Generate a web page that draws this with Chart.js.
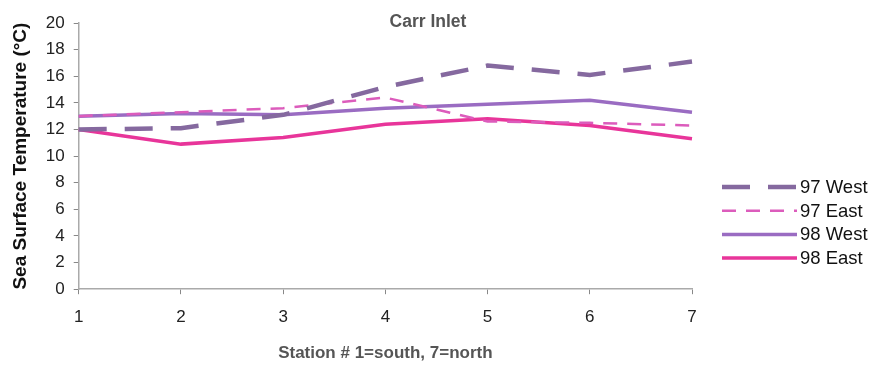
<!DOCTYPE html>
<html>
<head>
<meta charset="utf-8">
<script src="https://cdn.jsdelivr.net/npm/chart.js@4"></script>
<style>
  html, body { margin: 0; padding: 0; background: #fff; }
  #wrap { width: 880px; height: 367px; }
</style>
</head>
<body>
<div id="wrap"><canvas id="chart"></canvas></div>
<script>
// station numbers along the inlet
var stations = ["1", "2", "3", "4", "5", "6", "7"];
var yTicks = [0, 2, 4, 6, 8, 10, 12, 14, 16, 18, 20];
var chartTitle = "Carr Inlet";

// sea surface temperature (deg C)
var west97 = [12.0, 12.1, 13.1, 15.2, 16.8, 16.1, 17.1];
var east97 = [13.0, 13.3, 13.6, 14.4, 12.6, 12.5, 12.3];
var west98 = [13.0, 13.2, 13.1, 13.6, 13.9, 14.2, 13.3];
var east98 = [12.0, 10.9, 11.4, 12.4, 12.8, 12.3, 11.3];

Chart.defaults.font.family = "'Liberation Sans', Arial, sans-serif";
Chart.defaults.color = "#222";

// title and legend drawn by hand so that they sit where the original has them
var sideLegend = {
  id: "sideLegend",
  afterDraw: function (chart) {
    var ctx = chart.ctx;
    var area = chart.chartArea;
    ctx.save();
    ctx.fillStyle = "#555";
    ctx.font = "bold 17.5px 'Liberation Sans', Arial, sans-serif";
    ctx.textAlign = "center";
    ctx.textBaseline = "middle";
    ctx.fillText(chartTitle, 428, 22);

    var x0 = area.right + 30;
    var y0 = 187;
    ctx.font = "18.5px 'Liberation Sans', Arial, sans-serif";
    ctx.textAlign = "left";
    chart.data.datasets.forEach(function (ds, i) {
      var y = y0 + i * 23.7;
      ctx.beginPath();
      ctx.setLineDash(ds.borderDash || []);
      ctx.lineWidth = ds.borderWidth;
      ctx.strokeStyle = ds.borderColor;
      ctx.moveTo(x0, y);
      ctx.lineTo(x0 + 75, y);
      ctx.stroke();
      ctx.setLineDash([]);
      ctx.fillStyle = "#111";
      ctx.fillText(ds.label, x0 + 78, y + 1);
    });
    ctx.restore();
  }
};

new Chart(document.getElementById("chart"), {
  type: "line",
  data: {
    labels: stations,
    datasets: [{
        label: "97 West",
        data: west97,
        borderColor: "#85699f",
        borderWidth: 4.5,
        borderDash: [28, 18],
        pointRadius: 0,
        fill: false
      }, {
        label: "97 East",
        data: east97,
        borderColor: "#dc5cbc",
        borderWidth: 2.5,
        borderDash: [14, 10],
        pointRadius: 0,
        fill: false
      }, {
        label: "98 West",
        data: west98,
        borderColor: "#9a6cc2",
        borderWidth: 3.5,
        pointRadius: 0,
        fill: false
      }, {
        label: "98 East",
        data: east98,
        borderColor: "#e8359a",
        borderWidth: 3.5,
        pointRadius: 0,
        fill: false
      }
    ]
  },
  options: {
    responsive: true,
    maintainAspectRatio: false,
    animation: false,
    layout: { padding: { left: 9, right: 188, top: 23, bottom: 3 } },
    plugins: {
      title: { display: false },
      legend: { display: false },
      tooltip: { enabled: false }
    },
    scales: {
      x: {
        offset: false,
        grid: { drawOnChartArea: false, color: "#888", tickLength: 5 },
        border: { color: "#aaa", width: 1.5 },
        ticks: { font: { size: 17 }, padding: 13, maxRotation: 0 },
        title: {
          display: true,
          text: "Station # 1=south, 7=north",
          color: "#555",
          font: { size: 17, weight: "bold" },
          padding: { top: 3, bottom: 0 }
        }
      },
      y: {
        min: 0,
        max: 20,
        afterBuildTicks: function (axis) {
          axis.ticks = yTicks.map(function (v) { return { value: v }; });
        },
        grid: { drawOnChartArea: false, color: "#888", tickLength: 5 },
        border: { color: "#aaa", width: 1.5 },
        ticks: { font: { size: 17 }, padding: 9 },
        title: {
          display: true,
          text: "Sea Surface Temperature (°C)",
          color: "#111",
          font: { size: 19, weight: "bold" },
          padding: { top: 0, bottom: 5 }
        }
      }
    }
  },
  plugins: [sideLegend]
});
</script>
</body>
</html>
